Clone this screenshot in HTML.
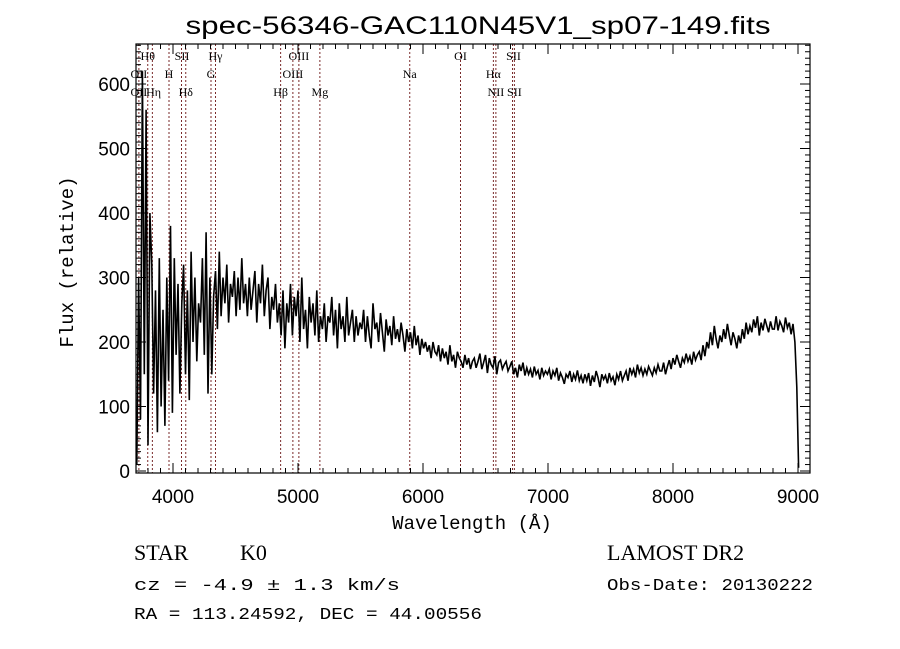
<!DOCTYPE html>
<html><head><meta charset="utf-8"><style>
html,body{margin:0;padding:0;background:#fff;}
svg{display:block;font-family:"Liberation Sans",sans-serif;}
</style></head><body>
<svg id="chart" width="900" height="649" viewBox="0 0 900 649" xmlns="http://www.w3.org/2000/svg">
<rect width="900" height="649" fill="#fff"/>
<text x="478" y="34" text-anchor="middle" font-size="25" textLength="585" lengthAdjust="spacingAndGlyphs">spec-56346-GAC110N45V1_sp07-149.fits</text>
<g id="lines"></g>
<g id="spec"></g>
<g id="axes"></g>
<text x="472" y="529" text-anchor="middle" font-size="19" font-family="Liberation Mono, monospace">Wavelength (Å)</text>
<text transform="translate(73,262) rotate(-90)" text-anchor="middle" font-size="19" font-family="Liberation Mono, monospace">Flux (relative)</text>
<text x="134" y="560" font-size="22" font-family="Liberation Serif, serif">STAR</text>
<text x="240" y="560" font-size="22" font-family="Liberation Serif, serif">K0</text>
<text x="134" y="590" font-size="17" font-family="Liberation Mono, monospace" textLength="266" lengthAdjust="spacingAndGlyphs">cz = -4.9 ± 1.3 km/s</text>
<text x="134" y="619" font-size="17" font-family="Liberation Mono, monospace" textLength="348" lengthAdjust="spacingAndGlyphs">RA = 113.24592, DEC =  44.00556</text>
<text x="607" y="560" font-size="22" font-family="Liberation Serif, serif">LAMOST DR2</text>
<text x="607" y="590" font-size="17" font-family="Liberation Mono, monospace" textLength="206" lengthAdjust="spacingAndGlyphs">Obs-Date: 20130222</text>
</svg>
<script>
const lamStart = 3710;
const lamStep = 15;
const flux = [
10,300,80,620,150,560,40,400,320,120,280,60,330,100,250,70,300,140,380,90,
330,180,290,120,260,320,150,280,110,340,200,300,170,260,230,330,180,370,120,300,
150,270,310,220,340,240,300,260,320,230,290,270,310,240,300,250,330,260,290,240,
300,250,280,310,230,290,260,320,240,280,300,220,270,250,290,230,260,210,280,190,
260,230,290,210,270,240,280,200,300,220,250,190,270,230,260,210,280,200,240,220,
260,200,240,230,270,210,250,190,260,220,240,200,270,210,230,250,200,240,210,230,
220,250,200,240,210,190,260,220,230,200,245,215,185,235,210,225,195,240,205,220,
200,230,210,185,220,200,215,190,225,195,210,180,205,190,200,185,195,175,200,185,
180,195,170,190,175,185,165,195,170,180,160,185,175,170,160,180,165,175,158,170,
175,160,170,182,158,168,180,152,175,165,160,178,150,168,172,158,165,170,155,162,
170,150,160,145,165,155,168,148,160,150,158,145,162,150,156,142,160,148,155,150,
158,142,155,148,160,140,152,145,135,150,145,155,138,150,142,156,140,148,136,150,
140,152,132,148,138,155,145,130,150,142,148,136,152,140,146,133,150,142,155,140,
148,155,140,160,150,158,145,165,152,160,148,158,150,162,155,148,160,152,165,155,
155,168,150,162,172,158,175,165,180,170,160,175,168,182,170,178,165,185,172,180,
185,172,195,178,200,190,215,195,225,205,190,210,200,220,205,228,210,195,215,205,
190,210,198,220,205,230,212,225,215,235,222,240,210,230,218,236,225,215,232,220,
220,240,218,232,225,215,238,222,230,212,228,200,130,5
];
const lineWaves = [3727,3798,3835,3968,4068,4102,4304,4340,4861,4959,5007,5175,5894,6300,6563,6583,6716,6731];
const lineLabels = [["Hθ",3798,1],["SII",4072,1],["Hγ",4340,1],["OIII",5007,1],["OI",6300,1],["SII",6724,1],
 ["OII",3727,2],["H",3968,2],["G",4304,2],["OIII",4959,2],["Na",5894,2],["Hα",6563,2],
 ["OII",3727,3],["Hη",3845,3],["Hδ",4102,3],["Hβ",4861,3],["Mg",5175,3],["NII",6583,3],["SII",6731,3]];
const xTicks = [4000,5000,6000,7000,8000,9000];
const yTicks = [0,100,200,300,400,500,600];

const L=136,R=810,T=44,B=473;
const xs = w => 173 + (w-4000)*0.125;
const ys = v => 471 - v*0.645;
const NS="http://www.w3.org/2000/svg";
function mk(tag,attrs,parent){const e=document.createElementNS(NS,tag);for(const k in attrs)e.setAttribute(k,attrs[k]);parent.appendChild(e);return e;}

const lg=document.getElementById('lines');
lineWaves.forEach(w=>{
  const l=mk('line',{x1:xs(w),x2:xs(w),y1:T,y2:B,stroke:'#7a2a2a','stroke-width':1,'stroke-dasharray':'2,2'},lg);
  
  
});
const rowY=[0,60,78,96];
lineLabels.forEach(d=>{
  const t=mk('text',{x:xs(d[1]),y:rowY[d[2]],'text-anchor':'middle','font-size':12,'font-family':'Liberation Serif, serif'},lg);
  t.textContent=d[0];
  
  
});

const sg=document.getElementById('spec');
let pts=[];
flux.forEach((v,i)=>{const x=xs(lamStart+i*lamStep).toFixed(1);const y=ys(v).toFixed(1);pts.push(x+','+y);});
const pl=mk('polyline',{points:pts.join(' '),fill:'none',stroke:'#000','stroke-width':1.6},sg);



const ag=document.getElementById('axes');
const fr=mk('rect',{x:L,y:T,width:R-L,height:B-T,fill:'none',stroke:'#000','stroke-width':1.2},ag);


for(let w=3800;w<=9000;w+=100){
  const x=xs(w);const maj=(w%1000===0);const len=maj?10:5;
  mk('line',{x1:x,x2:x,y1:B,y2:B-len,stroke:'#000'},ag);
  mk('line',{x1:x,x2:x,y1:T,y2:T+len,stroke:'#000'},ag);
}
xTicks.forEach(w=>{
  const t=mk('text',{x:xs(w),y:B+30,'text-anchor':'middle','font-size':19},ag);
  t.textContent=w;
  
  
});
for(let v=0;v<=660;v+=10){
  const y=ys(v);if(y<T)break;const maj=(v%100===0);const len=maj?10:5;
  mk('line',{x1:L,x2:L+len,y1:y,y2:y,stroke:'#000'},ag);
  mk('line',{x1:R,x2:R-len,y1:y,y2:y,stroke:'#000'},ag);
}
yTicks.forEach(v=>{
  const t=mk('text',{x:L-6,y:ys(v)+7,'text-anchor':'end','font-size':19},ag);
  t.textContent=v;
  
  
});
</script>
</body></html>
